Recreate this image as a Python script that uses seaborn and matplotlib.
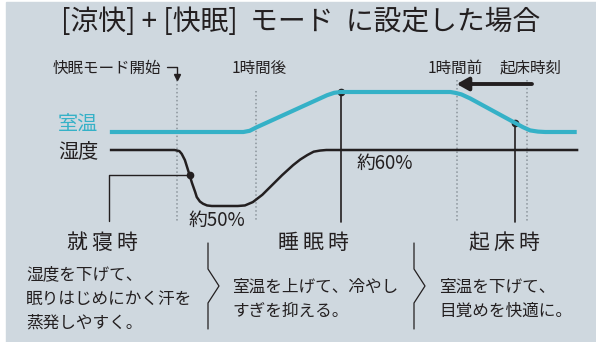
import numpy as np
import pandas as pd
import matplotlib
matplotlib.use("Agg")
import matplotlib.pyplot as plt
import seaborn as sns
from matplotlib.patches import Rectangle

# --- data -------------------------------------------------------------
# schematic timeline, hours from the start of 快眠 mode (not to scale)
temp_hours = [-0.85, 0.84, 0.92, 1.01, 1.90, 1.99, 2.07, 3.46, 3.52, 3.60,
              3.71, 4.38, 4.47, 4.57, 4.66, 5.06]
temp_values = [26.0, 26.0, 26.03, 26.12, 26.92, 26.98, 27.0, 27.0, 26.98, 26.94,
               26.84, 26.12, 26.04, 26.01, 26.0, 26.0]

hum_hours = [-0.85, -0.03, 0.03, 0.06, 0.10, 0.14, 0.19, 0.23, 0.25, 0.29,
             0.33, 0.38, 0.44, 0.77, 0.86, 0.96, 1.08, 1.18, 1.33, 1.47,
             1.56, 1.65, 1.73, 1.81, 1.89, 5.08]
hum_values = [60, 60, 59.8, 59.3, 58.2, 56.4, 54.1, 52.5, 51.6, 50.8,
              50.4, 50.1, 50.0, 50.0, 50.1, 50.7, 52.0, 53.4, 55.5, 57.3,
              58.3, 59.1, 59.7, 59.9, 60, 60]

event_hours = [0.0, 1.0, 3.54, 4.43]
event_labels = ["快眠モード開始", "1時間後", "1時間前", "起床時刻"]

marker_hours = [0.16, 2.07, 4.28]   # humidity dot, temperature dots

title = "[涼快] + [快眠]  モード  に設定した場合"
series_labels = ["室温", "湿度"]
level_labels = ["約60%", "約50%"]
phase_titles = ["就寝時", "睡眠時", "起床時"]
phase_texts = [
    ["湿度を下げて、", "眠りはじめにかく汗を", "蒸発しやすく。"],
    ["室温を上げて、冷やし", "すぎを抑える。"],
    ["室温を下げて、", "目覚めを快適に。"],
]

# --- style ------------------------------------------------------------
BG = "#cfd8df"
CYAN = "#35b1c7"
INK = "#231f20"
DOT_GRAY = "#8b949b"

sns.set_theme(style="white")
plt.rcParams["font.family"] = ["Noto Sans CJK JP", "DejaVu Sans"]

W, H = 596, 342
fig = plt.figure(figsize=(W / 100, H / 100), dpi=100, facecolor="white")

# canvas in pixel units for layout
ax = fig.add_axes([0, 0, 1, 1])
ax.set_xlim(0, W)
ax.set_ylim(H, 0)
ax.axis("off")
ax.add_patch(Rectangle((6, 2), W - 6, H - 2, color=BG, zorder=0))

# data axes: time in hours, temperature and humidity
HOUR_LIM = (-2.2405, 5.3038)
TEMP_LIM = (20.75, 29.3)
HUM_LIM = (25.714, 86.786)

ax_t = fig.add_axes([0, 0, 1, 1], facecolor="none")
ax_h = fig.add_axes([0, 0, 1, 1], facecolor="none")

temp_df = pd.DataFrame({"hour": temp_hours, "value": temp_values})
hum_df = pd.DataFrame({"hour": hum_hours, "value": hum_values})

sns.lineplot(data=temp_df, x="hour", y="value", ax=ax_t, sort=False,
             estimator=None, color=CYAN, lw=3.0, zorder=3,
             solid_capstyle="butt", solid_joinstyle="round")
sns.lineplot(data=hum_df, x="hour", y="value", ax=ax_h, sort=False,
             estimator=None, color=INK, lw=1.8, zorder=3,
             solid_capstyle="butt", solid_joinstyle="round")
for a, ylim in ((ax_t, TEMP_LIM), (ax_h, HUM_LIM)):
    a.set_xlim(*HOUR_LIM)
    a.set_ylim(*ylim)
    a.axis("off")


def to_canvas(src, x, y):
    return ax.transData.inverted().transform(src.transData.transform((x, y)))


# event guide lines (dotted)
guide_top = [80, 91, 80, 80]
for hr, top in zip(event_hours, guide_top):
    cx = to_canvas(ax_t, hr, 26)[0]
    ax.plot([cx, cx], [top, 222], color=DOT_GRAY, lw=1.1,
            linestyle=(0, (1, 1.6)), zorder=1)

# marker dots and their leader lines
h_dot = np.interp(marker_hours[0], hum_hours, hum_values)
hx, hy = to_canvas(ax_h, marker_hours[0], h_dot)
ax.plot([hx, 109, 109], [hy, hy, 221], color=INK, lw=1.0, zorder=4)
ax.plot(hx, hy, "o", color=INK, ms=4.5, zorder=5)

for hr in marker_hours[1:]:
    t_dot = np.interp(hr, temp_hours, temp_values)
    tx, ty = to_canvas(ax_t, hr, t_dot)
    ax.plot([tx, tx], [ty, 222], color=INK, lw=1.2, zorder=4)
    ax.plot(tx, ty, "o", color=INK, ms=4.5, zorder=5)

# start marker: small bracket with a down-pointing triangle
sx = to_canvas(ax_t, event_hours[0], 26)[0]
ax.plot([sx - 10, sx, sx], [67, 67, 74], color=INK, lw=1.0, zorder=4)
ax.plot(sx, 77, marker="v", color=INK, ms=5, zorder=5)

# backward arrow from wake time to one hour before
arr_x0 = to_canvas(ax_t, event_hours[3], 26)[0] + 5
arr_x1 = to_canvas(ax_t, event_hours[2], 26)[0]
ax.annotate("", xy=(arr_x1, 84), xytext=(arr_x0, 84),
            arrowprops=dict(arrowstyle="-|>,head_length=0.5,head_width=0.28",
                            color=INK, lw=2.8, shrinkA=0, shrinkB=0,
                            mutation_scale=14), zorder=5)

# --- text -------------------------------------------------------------
ax.text(301, 22, title, fontsize=20, color=INK, ha="center", va="center")

ax.text(53, 68, event_labels[0], fontsize=11.2, color=INK, ha="left", va="center")
ax.text(to_canvas(ax_t, event_hours[1], 26)[0] + 3, 68, event_labels[1],
        fontsize=11.2, color=INK, ha="center", va="center")
ax.text(455, 68, event_labels[2], fontsize=11.2, color=INK, ha="center", va="center")
ax.text(531, 68, event_labels[3], fontsize=11.2, color=INK, ha="center", va="center")

ax.text(98, 125, series_labels[0], fontsize=14.5, color=CYAN, ha="right", va="center")
ax.text(98, 152, series_labels[1], fontsize=14.5, color=INK, ha="right", va="center")

ax.text(357, 163, level_labels[0], fontsize=13.5, color=INK, ha="left", va="center")
ax.text(189, 220, level_labels[1], fontsize=13.5, color=INK, ha="left", va="center")

for cx, name in zip([102, 313, 504], phase_titles):
    ax.text(cx, 243, "\u2009".join(name), fontsize=15, color=INK,
            ha="center", va="center")

for x0, y0, lines in zip([26, 232, 439], [275, 287, 287], phase_texts):
    for i, line in enumerate(lines):
        ax.text(x0, y0 + i * 24, line, fontsize=12, color=INK,
                ha="left", va="center")

# chevron separators between phases
for sx0 in (208, 414):
    ax.plot([sx0, sx0, sx0 + 11, sx0, sx0], [243, 269, 286, 303, 329],
            color=INK, lw=0.9, zorder=4)

fig.savefig("out.png", dpi=100, facecolor="white")
